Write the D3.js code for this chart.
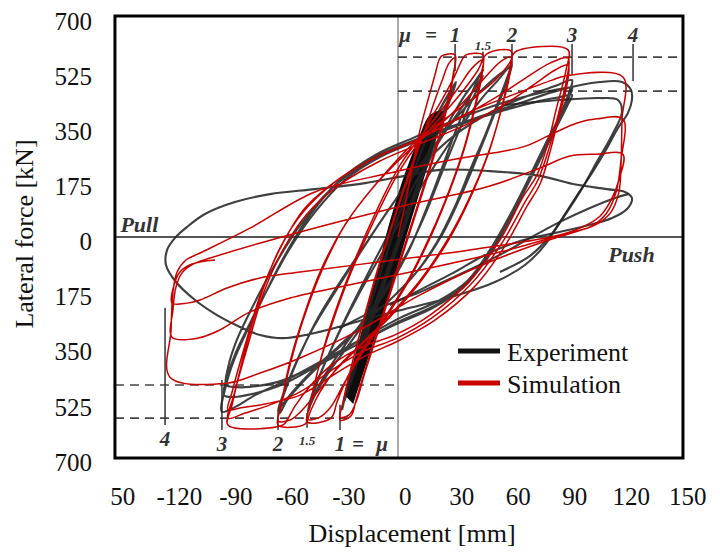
<!DOCTYPE html>
<html>
<head>
<meta charset="utf-8">
<script src="https://cdn.jsdelivr.net/npm/d3@7"></script>
<style>
  body { margin: 0; background: #fff; }
  svg text { font-family: "Liberation Serif", "Times New Roman", serif; }
</style>
</head>
<body>
<div id="chart"></div>
<script>
// ---- axis ticks ----
var xTicks = [-150, -120, -90, -60, -30, 0, 30, 60, 90, 120, 150];
var xTickLabels = ["50", "-120", "-90", "-60", "-30", "0", "30", "60", "90", "120", "150"];
var yTicks = [700, 525, 350, 175, 0, -175, -350, -525, -700];

// reference lines of the original test figure
var zeroDisp = -3.6;
var zeroForce = 15;
var pushLevels = [586, 478];
var pullLevels = [-455, -560];

// ductility marks
var muLabels = ["1", "1.5", "2", "3", "4"];
var muPush = [26.7, 41.5, 56.9, 88.8, 121.2];
var muPull = [-34.4, -51.9, -67.3, -97.1, -127.3];
var muPushTick = [[628, 542], [603, 567], [628, 567], [628, 529], [628, 510]];
var muPullTick = [[-518, -598], [-544, -591], [-534, -598], [-439, -598], [-210, -582]];

// ---- simulation (displacement mm, force kN) ----
var simMu1 = [
  [-3.6,15],[0.1,117],[3.8,228],[8.1,355],[12.3,450],[16.0,529],[18.2,577],[19.7,590],[26.7,593],
  [25.6,529],[22.4,434],[17.6,323],[10.2,180],[1.7,21],[-6.8,-137],[-14.2,-280],[-21.1,-407],[-25.9,-503],[-28.6,-553],[-34.4,-566],
  [-32.8,-509],[-28.6,-401],[-22.7,-268],[-14.2,-90],[-4.7,88],[3.3,228],[10.7,355],[16.0,450],[20.3,520],[23.5,567],[26.7,583],
  [25.6,520],[22.4,424],[17.6,313],[10.2,170],[1.7,12],[-6.8,-147],[-14.2,-287],[-21.1,-414],[-25.9,-509],[-29.6,-550],[-34.4,-557]
];
var simMu15 = [
  [-32.8,-509],[-28.6,-401],[-22.7,-264],[-14.2,-83],[-4.7,94],[2.8,228],[10.7,355],[19.7,450],[26.7,529],[30.9,583],[32.5,593],[41.5,593],
  [40.5,529],[36.7,418],[31.4,297],[24.0,170],[14.4,31],[1.7,-122],[-11.6,-249],[-22.7,-344],[-30.7,-433],[-36.0,-509],[-39.2,-560],[-51.9,-572],
  [-50.3,-518],[-46.1,-407],[-39.7,-271],[-29.1,-96],[-14.8,101],[-2.5,243],[7.0,323],[18.7,412],[28.3,488],[35.7,551],[41.5,577],
  [40.5,513],[36.7,409],[31.4,291],[24.0,164],[14.4,25],[1.7,-128],[-11.6,-255],[-22.2,-350],[-31.8,-445],[-39.7,-528],[-46.1,-560],[-51.9,-563]
];
var simMu2 = [
  [-50.3,-518],[-46.1,-407],[-39.7,-280],[-29.1,-106],[-14.2,94],[-2.5,228],[6.5,307],[18.7,393],[30.4,475],[38.9,545],[43.6,596],[56.4,605],
  [55.4,539],[51.1,418],[45.2,297],[36.7,170],[25.1,31],[9.1,-115],[-6.8,-226],[-22.7,-322],[-36.0,-401],[-45.0,-477],[-50.3,-541],[-53.0,-579],[-67.3,-582],
  [-65.7,-522],[-62.0,-407],[-55.6,-271],[-45.0,-96],[-31.8,53],[-14.8,186],[6.5,313],[21.3,386],[34.6,466],[45.2,539],[52.1,577],[56.4,586],
  [55.4,520],[50.5,402],[44.7,285],[36.2,158],[24.5,18],[8.6,-125],[-7.3,-236],[-23.2,-328],[-36.6,-407],[-47.7,-487],[-55.6,-541],[-60.9,-566],[-67.3,-569]
];
var simMu3 = [
  [-65.7,-518],[-60.9,-391],[-54.0,-249],[-43.9,-90],[-31.8,53],[-15.8,180],[6.5,323],[29.3,424],[47.9,513],[55.9,570],[58.5,602],[86.7,609],
  [85.6,545],[80.3,418],[76.0,313],[70.2,212],[62.8,142],[50.5,5],[34.6,-122],[13.4,-233],[-5.2,-296],[-23.8,-337],[-39.7,-395],[-50.3,-458],[-58.3,-522],[-62.5,-566],[-64.7,-582],[-93.9,-582],
  [-91.7,-518],[-84.8,-344],[-75.8,-160],[-66.3,-20],[-54.0,94],[-37.1,189],[-15.8,266],[6.5,323],[29.3,393],[50.5,466],[66.5,529],[77.1,567],[86.7,583],
  [86.1,520],[81.4,402],[76.6,297],[70.7,196],[63.8,126],[51.6,-4],[35.7,-131],[14.4,-242],[-4.1,-306],[-22.7,-350],[-38.6,-407],[-55.6,-477],[-71.6,-518],[-84.8,-544],[-93.9,-560],
  [-91.2,-496],[-83.7,-337],[-74.8,-160],[-64.7,-26],[-52.4,85],[-35.5,177],[-14.2,253],[6.5,307],[32.0,370],[53.2,437],[69.1,501],[79.8,545],[86.7,561],
  [86.1,497],[81.4,386],[77.1,285],[71.8,183],[64.9,113],[53.2,-13],[37.3,-141],[16.0,-249],[-2.5,-312],[-21.1,-363],[-37.1,-420],[-55.6,-487],[-74.2,-515],[-87.5,-528],[-93.9,-534]
];
var simMu4 = [
  [-91.7,-477],[-84.8,-328],[-75.8,-153],[-65.2,-10],[-53.0,107],[-34.4,202],[-13.2,275],[6.5,323],[34.6,412],[61.2,475],[78.2,513],[85.1,526],[115.8,523],
  [115.3,386],[114.8,243],[113.7,158],[109.5,94],[102.0,56],[90.4,31],[71.8,-4],[39.9,-77],[8.1,-169],[-23.8,-280],[-55.6,-369],[-76.9,-417],[-94.4,-449],[-124.7,-430],
  [-124.1,-280],[-123.1,-160],[-120.9,-96],[-116.2,-58],[-108.7,-36],[-82.2,43],[-47.7,158],[-7.9,218],[27.7,263],[62.8,301],[77.1,339],[91.5,377],[102.0,390],[115.8,390],
  [114.8,259],[112.2,158],[106.8,88],[98.3,47],[85.1,25],[50.5,-33],[8.1,-90],[-29.1,-137],[-60.9,-179],[-82.2,-223],[-98.1,-280],[-109.8,-306],[-123.6,-303],
  [-123.1,-217],[-121.5,-144],[-118.3,-99],[-112.4,-71],[-103.4,-52],[-55.6,31],[-7.9,104],[45.2,177],[71.8,234],[87.7,272],[102.0,278],[115.8,278],
  [113.7,196],[109.5,132],[103.6,81],[93.0,43],[79.8,18],[34.6,-26],[-13.2,-64],[-55.6,-96],[-76.9,-115],[-94.4,-147],[-108.7,-185],[-115.6,-195],[-123.6,-195],
  [-122.5,-137],[-119.4,-96],[-113.0,-71],[-100.8,-58]
];

// ---- experiment ----
var expBand = [
  [-27.6,-509],[-21.2,-391],[-15.9,-296],[-9.5,-185],[-4.2,-74],[0.0,12],[5.3,117],[10.6,221],[15.4,313],[20.2,412],
  [13.5,399],[7.6,323],[1.3,228],[-4.0,132],[-9.4,21],[-13.6,-83],[-17.9,-179],[-22.1,-280],[-26.9,-391],[-31.1,-487]
];
var expMu1 = [
  [-33.3,-534],[-30.2,-455],[-24.8,-344],[-17.4,-185],[-8.9,-26],[-1.5,117],[7.0,259],[14.4,370],[21.3,450],[25.1,488],[27.2,507],
  [25.1,466],[19.7,386],[12.3,259],[4.9,132],[-2.5,5],[-10.0,-122],[-17.4,-249],[-23.8,-360],[-29.1,-455],[-32.8,-518],
  [-31.2,-477],[-25.9,-360],[-18.5,-201],[-10.0,-42],[-2.0,107],[6.5,250],[13.9,361],[20.3,437],[25.1,482],
  [23.0,450],[17.6,370],[10.7,250],[3.3,123],[-4.1,-4],[-11.6,-131],[-19.0,-258],[-25.4,-369],[-30.2,-464],[-32.3,-503]
];
var expMu15 = [
  [-28.0,-414],[-21.7,-296],[-13.2,-153],[-3.6,5],[5.4,148],[14.4,275],[24.0,386],[32.0,466],[37.8,513],[41.5,545],
  [39.9,529],[35.1,466],[28.2,370],[20.3,243],[12.3,117],[2.8,-20],[-7.9,-137],[-19.5,-242],[-31.8,-344],[-41.3,-423],[-47.7,-487],[-50.9,-528],
  [-49.3,-496],[-45.0,-423],[-38.1,-328],[-28.0,-201],[-16.4,-64],[-4.7,69],[7.0,202],[18.7,323],[29.3,418],[36.7,482],[41.5,526],
  [39.4,497],[34.1,428],[27.2,329],[19.2,212],[10.7,85],[0.6,-42],[-10.5,-153],[-22.7,-255],[-34.4,-350],[-43.4,-433],[-48.7,-496],[-51.5,-541]
];
var expMu2 = [
  [-49.3,-487],[-44.0,-407],[-35.5,-296],[-23.8,-160],[-10.5,-20],[2.8,117],[16.0,243],[29.3,361],[41.0,456],[49.5,513],[56.9,564],
  [55.9,539],[51.6,466],[45.2,370],[37.8,259],[29.3,139],[19.7,21],[8.1,-83],[-5.2,-169],[-18.5,-242],[-31.8,-318],[-45.0,-391],[-55.6,-455],[-62.5,-503],[-66.3,-544],
  [-65.2,-503],[-60.9,-433],[-54.6,-344],[-46.1,-242],[-34.4,-128],[-21.1,-10],[-6.8,117],[8.1,243],[24.0,370],[37.3,459],[47.9,520],[55.9,551],
  [54.3,520],[49.5,443],[43.1,345],[35.1,234],[26.7,113],[17.1,-1],[5.4,-103],[-7.9,-185],[-21.7,-258],[-35.5,-334],[-48.7,-407],[-58.8,-471],[-64.7,-515],[-67.3,-534]
];
var expMu3 = [
  [-64.1,-477],[-58.3,-391],[-49.3,-280],[-37.1,-160],[-22.7,-26],[-6.8,117],[8.1,234],[26.7,339],[47.9,418],[66.5,466],[79.8,494],[88.8,513],
  [87.7,482],[82.4,402],[74.4,307],[65.4,196],[55.9,85],[45.2,-26],[33.6,-122],[18.7,-185],[-2.5,-242],[-23.8,-312],[-45.0,-382],[-64.7,-445],[-79.5,-487],[-90.2,-525],[-97.1,-540],
  [-94.9,-455],[-90.7,-376],[-84.8,-296],[-75.8,-185],[-63.6,-42],[-50.3,85],[-34.4,196],[-15.8,275],[5.4,332],[29.3,393],[53.2,443],[71.8,472],[82.4,485],[88.8,488],
  [87.2,459],[81.4,380],[73.4,285],[64.3,174],[54.8,63],[44.2,-45],[32.0,-137],[16.6,-201],[-4.7,-258],[-25.9,-328],[-46.6,-395],[-65.7,-455],[-80.6,-483],[-90.7,-493],[-96.0,-487],
  [-93.9,-423],[-89.6,-350],[-83.2,-271],[-73.7,-160],[-61.5,-26],[-47.7,94],[-31.8,196],[-13.2,269],[7.0,320],[30.4,374],[53.2,418],[71.8,447],[82.4,459],[88.8,466],
  [86.7,437],[80.3,361],[72.3,266],[63.3,158],[53.7,47],[43.1,-58],[30.9,-147],[15.0,-210],[-6.8,-268],[-28.0,-334],[-48.7,-398],[-67.3,-445],[-82.2,-461],[-91.2,-461],[-94.9,-455]
];
var expMu4 = [
  [-93.9,-401],[-89.6,-318],[-82.2,-223],[-70.5,-90],[-56.7,43],[-39.7,164],[-18.5,259],[5.4,323],[34.6,386],[61.2,440],[82.4,482],[103.6,507],[115.3,507],[120.1,482],[120.6,450],
  [118.5,409],[113.2,361],[106.8,291],[99.4,218],[90.9,142],[82.4,63],[74.4,-10],[63.8,-74],[47.9,-128],[26.7,-172],[2.8,-210],[-18.5,-242],[-37.1,-274],[-50.3,-293],[-64.7,-306],
  [-76.9,-296],[-87.5,-271],[-99.7,-233],[-111.4,-185],[-121.5,-128],[-126.8,-74],[-126.2,-26],[-122.0,12],[-115.6,47],[-106.1,88],[-90.2,126],[-71.6,151],[-47.7,167],[-21.1,186],
  [0.1,209],[18.7,228],[45.2,224],[71.8,209],[89.3,183],[107.3,167],[116.9,158],[120.6,139],[118.5,107],[110.1,75],[95.7,50],[79.8,28],[61.2,2],[42.6,-42],[26.7,-96],[8.1,-153],[-7.9,-201]
];
var expMu4b = [[-34.4,-274],[-13.2,-210],[8.1,-160],[29.3,-103],[50.5,-42],[66.5,12],[82.4,63],[98.3,107],[111.6,139],[118.5,151]];
var expMu4c = [[53.2,434],[82.4,450],[103.6,456],[113.2,450],[115.3,412],[110.1,339],[102.5,259],[94.6,174],[86.1,94],[77.1,18],[66.5,-45],[50.5,-96]];

var legendNames = ["Experiment", "Simulation"];
var legendColors = ["#111", "#c80000"];

// extent of the picture frame, in axis units
var frameX = [-153.9, 147.7];
var frameY = [-686.7, 716.5];

var serif = "'Liberation Serif', 'Times New Roman', serif";
var width = 720, height = 556;

var svg = d3.select("#chart")
  .append("svg")
  .attr("width", width)
  .attr("height", height);

var x = d3.scaleLinear().domain([-150, 150]).range([122.3, 687.3]);
var y = d3.scaleLinear().domain([-700, 700]).range([462.2, 21.2]);

var fx0 = x(frameX[0]), fx1 = x(frameX[1]);
var fy0 = y(frameY[1]), fy1 = y(frameY[0]);

svg.append("clipPath").attr("id", "plotClip")
  .append("rect")
  .attr("x", fx0).attr("y", fy0)
  .attr("width", fx1 - fx0).attr("height", fy1 - fy0);

var plot = svg.append("g").attr("clip-path", "url(#plotClip)");

// zero lines of the original figure
plot.append("line")
  .attr("x1", x(zeroDisp)).attr("x2", x(zeroDisp))
  .attr("y1", fy0).attr("y2", fy1)
  .attr("stroke", "#888").attr("stroke-width", 1.4);
plot.append("line")
  .attr("x1", fx0).attr("x2", fx1)
  .attr("y1", y(zeroForce)).attr("y2", y(zeroForce))
  .attr("stroke", "#555").attr("stroke-width", 1.8);

// dashed strength levels
pushLevels.forEach(function(f) {
  plot.append("line")
    .attr("x1", x(zeroDisp)).attr("x2", fx1)
    .attr("y1", y(f)).attr("y2", y(f))
    .attr("stroke", "#444").attr("stroke-width", 1.6)
    .attr("stroke-dasharray", "9,6");
});
pullLevels.forEach(function(f) {
  plot.append("line")
    .attr("x1", fx0).attr("x2", x(zeroDisp))
    .attr("y1", y(f)).attr("y2", y(f))
    .attr("stroke", "#444").attr("stroke-width", 1.6)
    .attr("stroke-dasharray", "9,6");
});

// ductility ticks
muLabels.forEach(function(m, i) {
  plot.append("line")
    .attr("x1", x(muPush[i])).attr("x2", x(muPush[i]))
    .attr("y1", y(muPushTick[i][0])).attr("y2", y(muPushTick[i][1]))
    .attr("stroke", "#333").attr("stroke-width", 1.5);
  plot.append("line")
    .attr("x1", x(muPull[i])).attr("x2", x(muPull[i]))
    .attr("y1", y(muPullTick[i][0])).attr("y2", y(muPullTick[i][1]))
    .attr("stroke", "#333").attr("stroke-width", 1.5);
});

var line = d3.line()
  .x(function(d) { return x(d[0]); })
  .y(function(d) { return y(d[1]); })
  .curve(d3.curveCatmullRom.alpha(0.5));

// experiment
plot.append("path")
  .attr("d", line(expBand) + "Z")
  .attr("fill", "#0d0d0d")
  .attr("stroke", "#0d0d0d")
  .attr("stroke-width", 2);

var expPath = [].concat(expMu1, expMu15, expMu2, expMu3, expMu4);
[expPath, expMu4b, expMu4c].forEach(function(p) {
  plot.append("path")
    .attr("d", line(p))
    .attr("fill", "none")
    .attr("stroke", "#242424")
    .attr("stroke-opacity", 0.88)
    .attr("stroke-width", 2.1);
});

// simulation
var simPath = [].concat(simMu1, simMu15, simMu2, simMu3, simMu4);
plot.append("path")
  .attr("d", line(simPath))
  .attr("fill", "none")
  .attr("stroke", "#c80000")
  .attr("stroke-width", 1.5);

// frame
svg.append("rect")
  .attr("x", fx0).attr("y", fy0)
  .attr("width", fx1 - fx0).attr("height", fy1 - fy0)
  .attr("fill", "none")
  .attr("stroke", "#000")
  .attr("stroke-width", 3);

// ductility labels
var ann = svg.append("g")
  .attr("font-weight", "bold")
  .attr("font-style", "italic")
  .attr("fill", "#333")
  .attr("text-anchor", "middle")
  .style("font-family", serif);

muLabels.forEach(function(m, i) {
  var small = m === "1.5";
  ann.append("text")
    .attr("x", x(muPush[i]))
    .attr("y", y(muPushTick[i][0]) - 2)
    .attr("font-size", small ? 13 : 21)
    .text(m);
  ann.append("text")
    .attr("x", x(muPull[i]))
    .attr("y", y(muPullTick[i][1]) + (small ? 17 : 21))
    .attr("font-size", small ? 13 : 21)
    .text(m);
});
ann.append("text").attr("x", x(muPush[0]) - 50).attr("y", y(muPushTick[0][0]) - 2)
  .attr("font-size", 21).text("μ");
ann.append("text").attr("x", x(muPush[0]) - 24).attr("y", y(muPushTick[0][0]) - 2)
  .attr("font-size", 21).text("=");
ann.append("text").attr("x", x(muPull[0]) + 18).attr("y", y(muPullTick[0][1]) + 21)
  .attr("font-size", 21).text("=");
ann.append("text").attr("x", x(muPull[0]) + 42).attr("y", y(muPullTick[0][1]) + 21)
  .attr("font-size", 21).text("μ");

ann.append("text").attr("x", x(-151)).attr("y", y(30))
  .attr("text-anchor", "start").attr("font-size", 22).text("Pull");
ann.append("text").attr("x", x(108)).attr("y", y(-65))
  .attr("text-anchor", "start").attr("font-size", 22).text("Push");

// axes
var xAxis = d3.axisBottom(x)
  .tickValues(xTicks)
  .tickFormat(function(d, i) { return xTickLabels[i]; })
  .tickSize(0)
  .tickPadding(0);
var yAxis = d3.axisLeft(y)
  .tickValues(yTicks)
  .tickFormat(function(d) { return Math.abs(d); })
  .tickSize(0)
  .tickPadding(0);

svg.append("g")
  .attr("class", "xAxis")
  .attr("transform", "translate(0, 487)")
  .call(xAxis)
  .call(function(g) { g.select(".domain").remove(); });

svg.append("g")
  .attr("class", "yAxis")
  .attr("transform", "translate(92, 0)")
  .call(yAxis)
  .call(function(g) { g.select(".domain").remove(); });

svg.selectAll(".xAxis, .yAxis")
  .attr("font-family", null)
  .attr("font-size", null);
svg.selectAll(".xAxis text, .yAxis text")
  .style("font-family", serif)
  .style("font-size", "25px")
  .attr("fill", "#111");

// axis titles
svg.append("text")
  .attr("x", 412).attr("y", 542)
  .attr("text-anchor", "middle")
  .style("font-family", serif)
  .style("font-size", "26px")
  .attr("fill", "#111")
  .text("Displacement [mm]");

svg.append("text")
  .attr("transform", "translate(33, 234) rotate(-90)")
  .attr("text-anchor", "middle")
  .style("font-family", serif)
  .style("font-size", "26px")
  .attr("fill", "#111")
  .text("Lateral force [kN]");

// legend
var legend = svg.append("g").attr("transform", "translate(458, 351)");
legendNames.forEach(function(name, i) {
  legend.append("line")
    .attr("x1", 0).attr("x2", 42)
    .attr("y1", i * 32).attr("y2", i * 32)
    .attr("stroke", legendColors[i])
    .attr("stroke-width", 5);
  legend.append("text")
    .attr("x", 49).attr("y", i * 32 + 10)
    .style("font-family", serif)
    .style("font-size", "26px")
    .attr("fill", "#111")
    .text(name);
});
</script>
</body>
</html>
